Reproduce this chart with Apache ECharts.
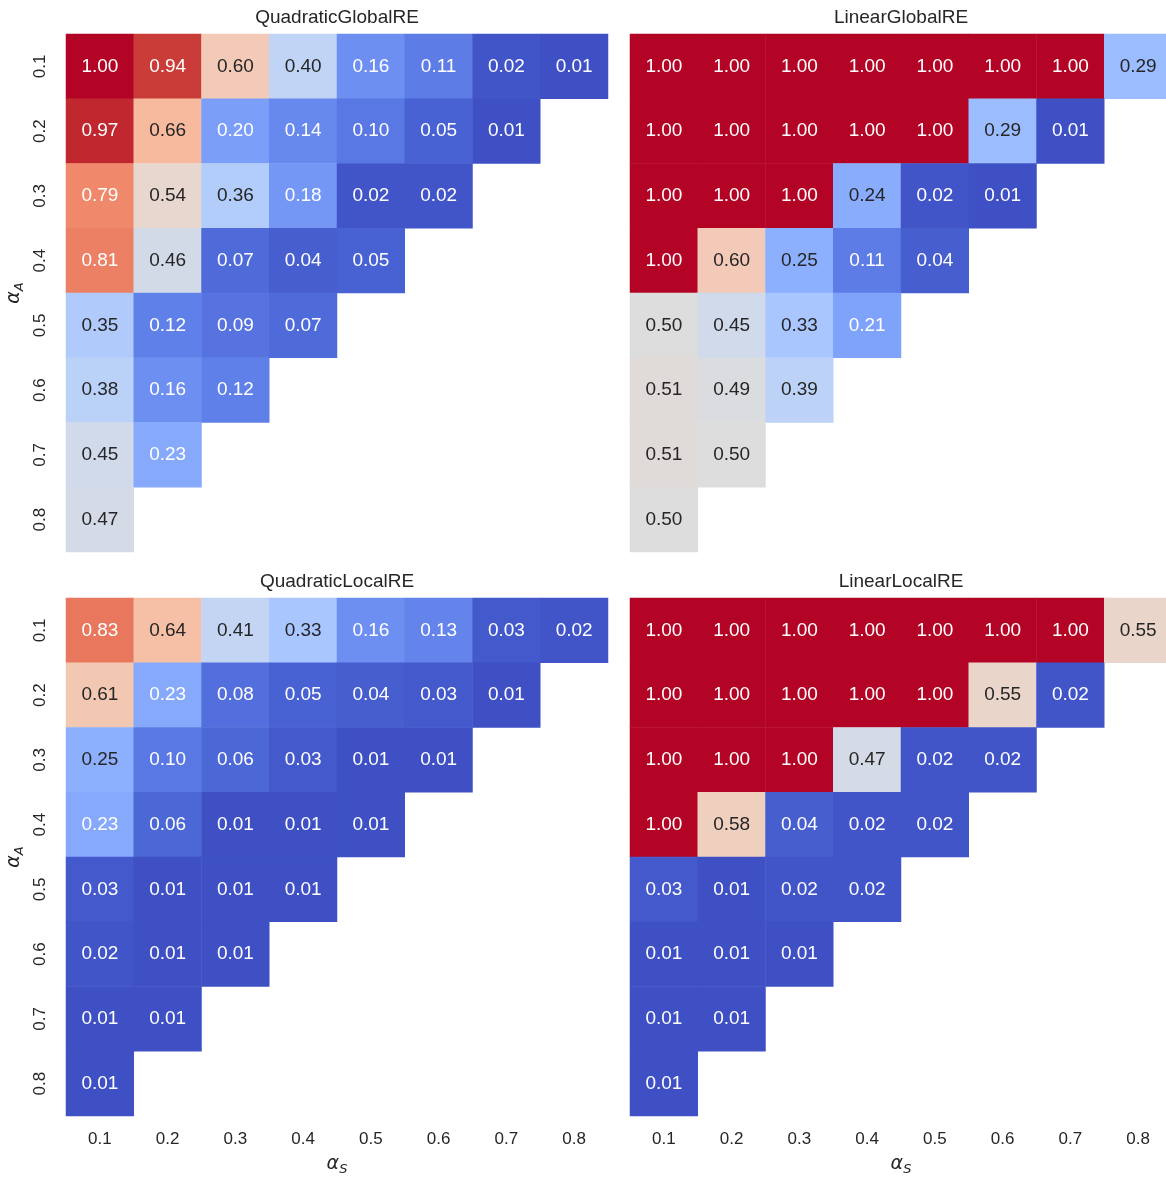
<!DOCTYPE html>
<html>
<head>
<meta charset="utf-8">
<script src="https://cdn.jsdelivr.net/npm/echarts@6/dist/echarts.min.js"></script>
<style>
html,body{margin:0;padding:0;background:#fff;}
#chart{width:1166px;height:1178px;}
</style>
</head>
<body>
<div id="chart"></div>
<script>
// ---- data ----
const alphaS = ['0.1','0.2','0.3','0.4','0.5','0.6','0.7','0.8'];
const alphaA = ['0.1','0.2','0.3','0.4','0.5','0.6','0.7','0.8'];
const panelTitles = ['QuadraticGlobalRE','LinearGlobalRE','QuadraticLocalRE','LinearLocalRE'];

const quadraticGlobalRE = [
  [1.00,0.94,0.60,0.40,0.16,0.11,0.02,0.01],
  [0.97,0.66,0.20,0.14,0.10,0.05,0.01],
  [0.79,0.54,0.36,0.18,0.02,0.02],
  [0.81,0.46,0.07,0.04,0.05],
  [0.35,0.12,0.09,0.07],
  [0.38,0.16,0.12],
  [0.45,0.23],
  [0.47]
];
const linearGlobalRE = [
  [1.00,1.00,1.00,1.00,1.00,1.00,1.00,0.29],
  [1.00,1.00,1.00,1.00,1.00,0.29,0.01],
  [1.00,1.00,1.00,0.24,0.02,0.01],
  [1.00,0.60,0.25,0.11,0.04],
  [0.50,0.45,0.33,0.21],
  [0.51,0.49,0.39],
  [0.51,0.50],
  [0.50]
];
const quadraticLocalRE = [
  [0.83,0.64,0.41,0.33,0.16,0.13,0.03,0.02],
  [0.61,0.23,0.08,0.05,0.04,0.03,0.01],
  [0.25,0.10,0.06,0.03,0.01,0.01],
  [0.23,0.06,0.01,0.01,0.01],
  [0.03,0.01,0.01,0.01],
  [0.02,0.01,0.01],
  [0.01,0.01],
  [0.01]
];
const linearLocalRE = [
  [1.00,1.00,1.00,1.00,1.00,1.00,1.00,0.55],
  [1.00,1.00,1.00,1.00,1.00,0.55,0.02],
  [1.00,1.00,1.00,0.47,0.02,0.02],
  [1.00,0.58,0.04,0.02,0.02],
  [0.03,0.01,0.02,0.02],
  [0.01,0.01,0.01],
  [0.01,0.01],
  [0.01]
];
const panelData = [quadraticGlobalRE, linearGlobalRE, quadraticLocalRE, linearLocalRE];

// coolwarm colormap stops (33 evenly spaced)
const coolwarm = ['#3b4cc0','#445acc','#4d68d7','#5775e1','#6282ea','#6c8ef1','#779af7','#82a5fb',
  '#8db0fe','#98b9ff','#a3c2ff','#aec9fd','#b8d0f9','#c2d5f4','#ccd9ee','#d5dbe6','#dddddd',
  '#e5d8d1','#ecd3c5','#f1ccb9','#f5c4ad','#f7bba0','#f7b194','#f7a687','#f49a7b','#f18d6f',
  '#ec7f63','#e57058','#de604d','#d55042','#cb3e38','#c0282f','#b40426'];

// ---- helpers ----
function hexToRgb(h){return [parseInt(h.substr(1,2),16),parseInt(h.substr(3,2),16),parseInt(h.substr(5,2),16)];}
function cmap(v){
  const t = Math.max(0,Math.min(1,v))*(coolwarm.length-1);
  const i = Math.min(Math.floor(t), coolwarm.length-2);
  const f = t-i;
  const a = hexToRgb(coolwarm[i]), b = hexToRgb(coolwarm[i+1]);
  return a.map((c,k)=>c+(b[k]-c)*f);
}
function lum(rgb){
  const l = rgb.map(c=>{c/=255;return c<=0.03928?c/12.92:Math.pow((c+0.055)/1.055,2.4);});
  return 0.2126*l[0]+0.7152*l[1]+0.0722*l[2];
}

const FONT = '"Liberation Sans", Arial, sans-serif';
const MATH = '"DejaVu Sans", sans-serif';
const TXT = '#262626';

const grids = [
  {left:66, top:34, width:542, height:518},
  {left:630, top:34, width:542, height:518},
  {left:66, top:598, width:542, height:518},
  {left:630, top:598, width:542, height:518}
];

const option = {
  backgroundColor:'#fff',
  animation:false,
  title: panelTitles.map((t,i)=>({
    text:t, left: grids[i].left + grids[i].width/2, top: grids[i].top - 26,
    textAlign:'center', padding:0,
    textStyle:{fontFamily:FONT, fontSize:19, fontWeight:'normal', color:TXT}
  })),
  grid: grids.map(g=>Object.assign({outerBoundsMode:'none', containLabel:false}, g)),
  visualMap: {
    type:'continuous', show:false, min:0, max:1, seriesIndex:[0,1,2,3],
    inRange:{color:coolwarm}
  },
  xAxis: grids.map((g,i)=>({
    type:'category', gridIndex:i, data:alphaS,
    axisLine:{show:false}, axisTick:{show:false}, splitLine:{show:false},
    axisLabel:{show: i>=2, fontFamily:FONT, fontSize:17, color:TXT, margin:15},
    name: i>=2 ? '{a|α}{s|S}' : '',
    nameLocation:'middle', nameGap:37,
    nameTextStyle:{rich:{
      a:{fontFamily:MATH, fontStyle:'italic', fontSize:19, color:TXT},
      s:{fontFamily:MATH, fontStyle:'italic', fontSize:13, color:TXT, padding:[10,0,0,0]}
    }}
  })),
  yAxis: grids.map((g,i)=>({
    type:'category', gridIndex:i, data:alphaA, inverse:true,
    axisLine:{show:false}, axisTick:{show:false}, splitLine:{show:false},
    axisLabel:{show: i%2===0, rotate:90, fontFamily:FONT, fontSize:17, color:TXT, margin:17},
    name: i%2===0 ? '{a|α}{s|A}' : '',
    nameLocation:'middle', nameGap:40, nameRotate:90,
    nameTextStyle:{rich:{
      a:{fontFamily:MATH, fontStyle:'italic', fontSize:19, color:TXT},
      s:{fontFamily:MATH, fontStyle:'italic', fontSize:13, color:TXT, padding:[10,0,0,0]}
    }}
  })),
  series: panelData.map((rows,i)=>{
    const data=[];
    rows.forEach((row,r)=>row.forEach((v,c)=>data.push([c,r,v])));
    return {
      type:'heatmap', xAxisIndex:i, yAxisIndex:i, data:data,
      itemStyle:{borderWidth:0},
      label:{show:true, formatter:function(p){
        const v=p.value[2];
        const tag = lum(cmap(v))>0.408 ? 'd' : 'w';
        return '{'+tag+'|'+v.toFixed(2)+'}';
      }, rich:{
        d:{color:TXT, fontFamily:FONT, fontSize:19},
        w:{color:'#ffffff', fontFamily:FONT, fontSize:19}
      }},
      emphasis:{disabled:true}
    };
  })
};

const chart = echarts.init(document.getElementById('chart'), null, {renderer:'canvas'});
chart.setOption(option);
</script>
</body>
</html>
